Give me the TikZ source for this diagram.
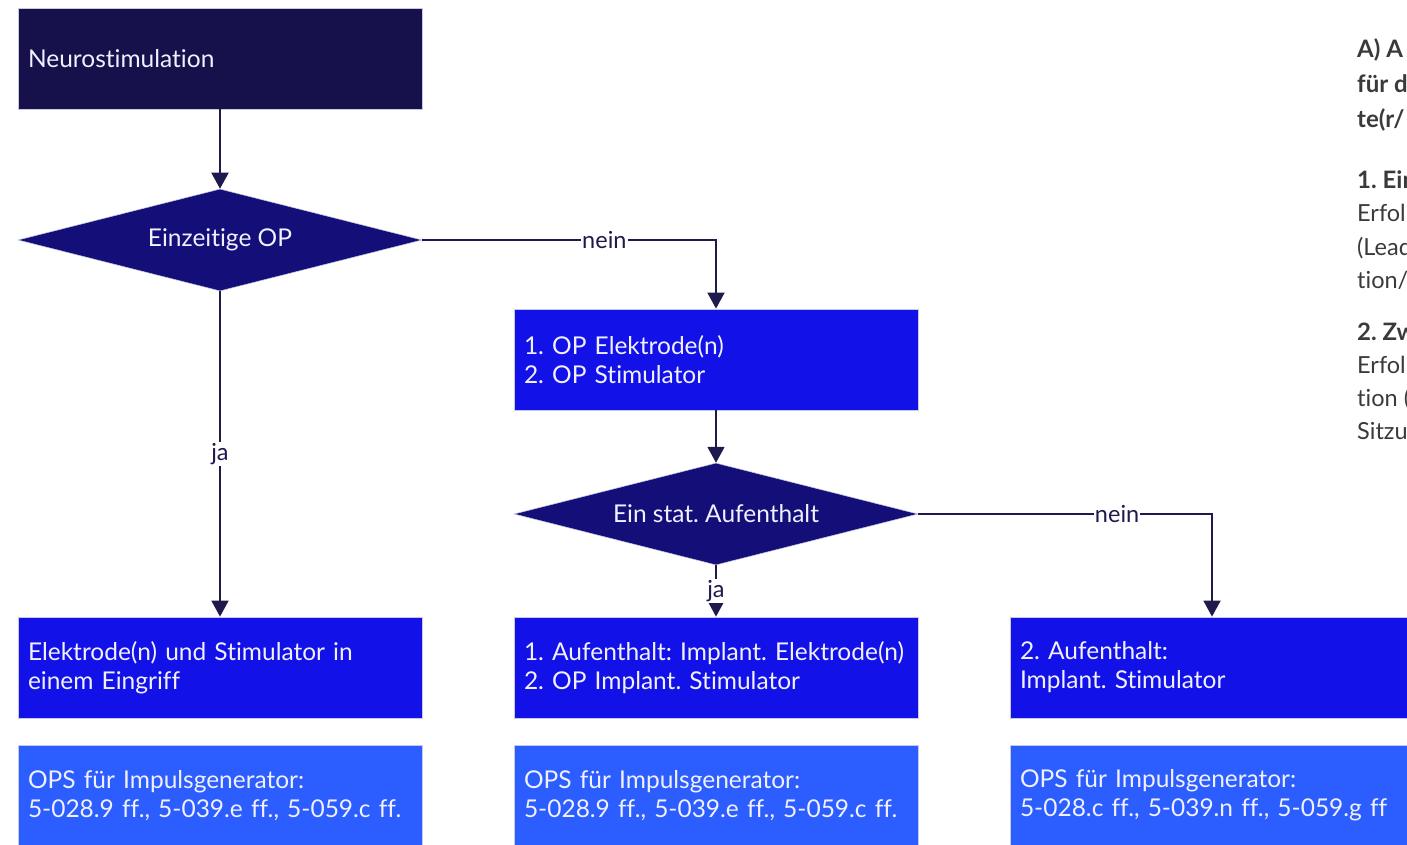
\documentclass[tikz,border=0pt]{standalone}
\usepackage{fontspec}
\setmainfont{Lato}[Ligatures=NoCommon]
\usetikzlibrary{shapes.geometric,arrows.meta}
\definecolor{navy}{HTML}{16114A}
\definecolor{diam}{HTML}{130E78}
\definecolor{bblue}{HTML}{1212E8}
\definecolor{lblue}{HTML}{2B5DFF}
\definecolor{linec}{HTML}{1E1A4D}
\definecolor{boxline}{HTML}{C8C8E6}
\definecolor{sidetext}{HTML}{3A3A3A}
\frenchspacing
\tikzset{
  box/.style={rectangle, draw=boxline, line width=0.8pt, minimum width=404pt, minimum height=101pt,
    text width=384pt, inner xsep=10pt, align=left, text=white!94!blue,
    font=\fontsize{24.5}{29}\selectfont},
  dia/.style={diamond, fill=diam, draw=boxline, line width=0.5pt, aspect=4, minimum width=404pt, minimum height=102pt,
    inner sep=0pt, text=white!94!blue, font=\fontsize{24.5}{29}\selectfont},
  conn/.style={draw=linec, line width=1.8pt, -{Triangle[length=16pt,width=17pt]}},
  lbl/.style={fill=white, text=linec, inner sep=1pt, font=\fontsize{23.5}{26}\selectfont},
  side/.style={anchor=base west, text=sidetext, inner sep=0pt, font=\fontsize{23.5}{26}\selectfont},
  sideb/.style={side, font=\fontsize{24}{26}\selectfont\bfseries}
}
\begin{document}
\begin{tikzpicture}[x=1pt,y=-1pt]
\useasboundingbox (0,0) rectangle (1407,845);
\clip (0,0) rectangle (1407,845);
\node[box, fill=navy] (neuro) at (220,58.5) {Neurostimulation};
\node[dia] (d1) at (220,240) {Einzeitige OP};
\node[box, fill=bblue] (op) at (716,359.5) {1. OP Elektrode(n)\\2. OP Stimulator};
\node[dia] (d2) at (716,514) {Ein stat. Aufenthalt};
\node[box, fill=bblue] (r1) at (220,667.5) {Elektrode(n) und Stimulator in\\einem Eingriff};
\node[box, fill=bblue] (r2) at (716,667.5) {1. Aufenthalt: Implant. Elektrode(n)\\2. OP Implant. Stimulator};
\node[box, fill=bblue] (r3) at (1212,667.5) {2. Aufenthalt:\\Implant. Stimulator};
\node[box, fill=lblue] (o1) at (220,795.5) {OPS für Impulsgenerator:\\5-028.9 ff., 5-039.e ff., 5-059.c ff.};
\node[box, fill=lblue] (o2) at (716,795.5) {OPS für Impulsgenerator:\\5-028.9 ff., 5-039.e ff., 5-059.c ff.};
\node[box, fill=lblue] (o3) at (1212,795.5) {OPS für Impulsgenerator:\\5-028.c ff., 5-039.n ff., 5-059.g ff};

\draw[conn] (neuro.south) -- (d1.north);
\draw[conn] (d1.east) -- node[lbl, pos=0.62] {nein} (op.north |- d1.east) -- (op.north);
\draw[conn] (d1.south) -- node[lbl, pos=0.5] {ja} (r1.north);
\draw[conn] (op.south) -- (d2.north);
\draw[conn] (d2.south) -- node[lbl, pos=0.5] {ja} (r2.north);
\draw[conn] (d2.east) -- node[lbl, pos=0.677] {nein} (r3.north |- d2.east) -- (r3.north);

\node[sideb] (s1) at (1357,58) {A) A};
\node[sideb] (s2) at (1357,93) {für d};
\node[sideb] (s3) at (1357,128) {te(r/};
\node[sideb] (s4) at (1357,189) {1. Ein};
\node[side] (s5) at (1357,222) {Erfol};
\node[side] (s6) at (1357,255) {(Lead};
\node[side] (s7) at (1357,288) {tion/};
\node[sideb] (s8) at (1357,340) {2. Zw};
\node[side] (s9) at (1357,373) {Erfol};
\node[side] (s10) at (1357,406) {tion (};
\node[side] (s11) at (1357,439) {Sitzu};
\end{tikzpicture}
\end{document}
